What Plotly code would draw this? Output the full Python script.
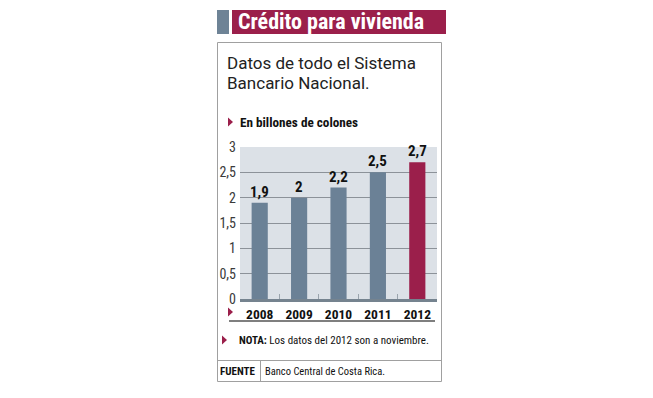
import plotly.graph_objects as go

years = ["2008", "2009", "2010", "2011", "2012"]
values = [1.9, 2.0, 2.2, 2.5, 2.7]
value_labels = ["1,9", "2", "2,2", "2,5", "2,7"]
ytick_vals = [0, 0.5, 1, 1.5, 2, 2.5, 3]
ytick_text = ["0", "0,5", "1", "1,5", "2", "2,5", "3"]

OFF = 8  # browser body margin
W, H = 653 - OFF, 398 - OFF
PL, PR, PT, PB = 240, 437, 147, 299  # plot area in window pixels

COND = "Liberation Sans Narrow, Roboto Condensed, DejaVu Sans Condensed, Arial Narrow, sans-serif"
REG = "Roboto, Liberation Sans, Arial, sans-serif"
SLATE = "#6b8196"
CRIMSON = "#9b1f4b"


def px(x):
    return (x - PL) / (PR - PL)


def py(y):
    return (PB - y) / (PB - PT)


colors = [SLATE] * 4 + [CRIMSON]

fig = go.Figure(go.Bar(x=years, y=values, marker=dict(color=colors, line=dict(width=0)),
                       width=0.41, hoverinfo="skip"))

shapes = []
annotations = []

# title bar
shapes.append(dict(type="rect", xref="paper", yref="paper", x0=px(217), x1=px(229), y0=py(34), y1=py(10),
                   fillcolor="#6e8396", line=dict(width=0), layer="above"))
shapes.append(dict(type="rect", xref="paper", yref="paper", x0=px(232), x1=px(446), y0=py(34), y1=py(10),
                   fillcolor=CRIMSON, line=dict(width=0), layer="above"))
annotations.append(dict(xref="paper", yref="paper", x=px(236), y=py(22), xanchor="left", yanchor="middle",
                        text="<b>Crédito para vivienda</b>", showarrow=False,
                        font=dict(family=COND, size=22, color="white")))
# box
shapes.append(dict(type="rect", xref="paper", yref="paper", x0=px(217.5), x1=px(441.5), y0=py(381.5), y1=py(42.5),
                   line=dict(color="#a0a0a0", width=1), fillcolor="rgba(0,0,0,0)", layer="below"))
shapes.append(dict(type="line", xref="paper", yref="paper", x0=px(217.5), x1=px(441.5), y0=py(360.5), y1=py(360.5),
                   line=dict(color="#a0a0a0", width=1)))
shapes.append(dict(type="line", xref="paper", yref="paper", x0=px(260.5), x1=px(260.5), y0=py(360.5), y1=py(381.5),
                   line=dict(color="#a0a0a0", width=1)))
# body text
annotations.append(dict(xref="paper", yref="paper", x=px(225), y=py(63), xanchor="left", yanchor="middle",
                        text="Datos de todo el Sistema", showarrow=False,
                        font=dict(family=REG, size=17, color="#222222")))
annotations.append(dict(xref="paper", yref="paper", x=px(225), y=py(83), xanchor="left", yanchor="middle",
                        text="Bancario Nacional.", showarrow=False,
                        font=dict(family=REG, size=17, color="#222222")))


def triangle(xl, yc):
    return dict(type="path", xref="paper", yref="paper",
                path=f"M {px(xl)} {py(yc-4.5)} L {px(xl+5)} {py(yc)} L {px(xl)} {py(yc+4.5)} Z",
                fillcolor=CRIMSON, line=dict(width=0))


shapes.append(triangle(228, 122))
annotations.append(dict(xref="paper", yref="paper", x=px(238), y=py(122), xanchor="left", yanchor="middle",
                        text="<b>En billones de colones</b>", showarrow=False,
                        font=dict(family=COND, size=13.2, color="#111111")))
shapes.append(triangle(228, 312))
shapes.append(dict(type="line", xref="paper", yref="paper", x0=px(229), x1=px(435), y0=py(321), y1=py(321),
                   line=dict(color="#555555", width=1.5)))
shapes.append(triangle(222, 340))
annotations.append(dict(xref="paper", yref="paper", x=px(237), y=py(340), xanchor="left", yanchor="middle",
                        text="<b>NOTA:</b> Los datos del 2012 son a noviembre.", showarrow=False,
                        font=dict(family=COND, size=11, color="#111111")))
annotations.append(dict(xref="paper", yref="paper", x=px(218), y=py(371), xanchor="left", yanchor="middle",
                        text="<b>FUENTE</b>", showarrow=False,
                        font=dict(family=COND, size=11, color="#111111")))
annotations.append(dict(xref="paper", yref="paper", x=px(263), y=py(371), xanchor="left", yanchor="middle",
                        text="Banco Central de Costa Rica.", showarrow=False,
                        font=dict(family=COND, size=10.5, color="#111111")))
# value labels
for i, (v, lab) in enumerate(zip(values, value_labels)):
    annotations.append(dict(x=i, y=v, xref="x", yref="y", yanchor="bottom", yshift=0,
                            text=f"<b>{lab}</b>", showarrow=False,
                            font=dict(family=COND, size=15, color="#111111")))

fig.update_layout(
    width=W, height=H,
    margin=dict(l=PL - OFF, r=W - (PR - OFF), t=PT - OFF, b=H - (PB - OFF), pad=0),
    paper_bgcolor="white", plot_bgcolor="#dce1e7",
    showlegend=False, bargap=0.59,
    shapes=shapes, annotations=annotations,
    xaxis=dict(type="category", range=[-0.5, 4.5], showgrid=False, showline=True, linecolor="#75838f",
               linewidth=3, ticks="inside", tickson="boundaries", ticklen=5, tickcolor="#9aa4ad",
               tickfont=dict(family=COND, size=13.5, color="#111111", weight="bold"), ticklabelstandoff=1),
    yaxis=dict(range=[0, 3], tickvals=ytick_vals, ticktext=ytick_text, showgrid=True,
               gridcolor="#8c9299", gridwidth=1, zeroline=False, showline=False,
               tickfont=dict(family=COND, size=14, color="#3a3a3a"), ticks="", ticklabelstandoff=3),
)

fig.write_html("out.html")
